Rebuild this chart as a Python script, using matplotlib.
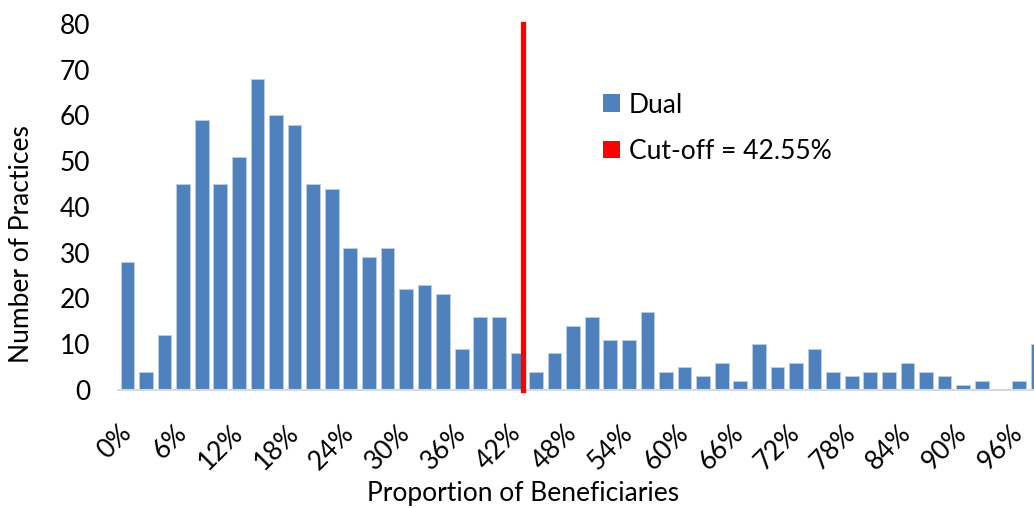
import matplotlib
matplotlib.use("Agg")
import matplotlib.pyplot as plt
from matplotlib.patches import Patch
import numpy as np

# =====================
# Data
# =====================
bin_pct = list(range(0, 100, 2))  # bin start, percent
practices = [28, 4, 12, 45, 59, 45, 51, 68, 60, 58,
             45, 44, 31, 29, 31, 22, 23, 21, 9, 16,
             16, 8, 4, 8, 14, 16, 11, 11, 17, 4,
             5, 3, 6, 2, 10, 5, 6, 9, 4, 3,
             4, 4, 6, 4, 3, 1, 2, 0, 2, 10]
tick_pct = list(range(0, 100, 6))
cutoff = 42.55

BLUE = "#4F81BD"
RED = "#FF0000"
FS = 19

plt.rcParams["font.family"] = ["Lato", "DejaVu Sans"]

W, H = 1034, 508
fig = plt.figure(figsize=(W / 100, H / 100), dpi=100)
ax = fig.add_axes([118 / W, (H - 390) / H, (W - 118) / W, 366 / H])

ax.bar(bin_pct, practices, width=1.47, color=BLUE, edgecolor="#B9CDE5",
       linewidth=0.7, zorder=2)
ax.axvline(cutoff, color=RED, linewidth=3.8, clip_on=False, zorder=3)

ax.set_xlim(-1.02, 97.63)
ax.set_ylim(0, 80)
ax.set_yticks(range(0, 81, 10))
ax.set_xticks(tick_pct)
ax.set_xticklabels([f"{p}%" for p in tick_pct], rotation=45, ha="right",
                   va="center", rotation_mode="anchor")
ax.tick_params(axis="both", length=0, labelsize=FS)
ax.tick_params(axis="y", pad=20)
ax.tick_params(axis="x", pad=28)

for side in ["top", "right", "left"]:
    ax.spines[side].set_visible(False)
ax.spines["bottom"].set_color("#D9D9D9")
ax.spines["bottom"].set_linewidth(1.5)

fig.text(22 / W, 1 - 244 / H, "Number of Practices", rotation=90,
         ha="center", va="center", fontsize=FS)
fig.text(523 / W, 1 - 494 / H, "Proportion of Beneficiaries",
         ha="center", va="center", fontsize=FS)

handles = [Patch(facecolor=BLUE, edgecolor="none", label="Dual"),
           Patch(facecolor=RED, edgecolor="none", label="Cut-off = 42.55%")]
fig.legend(handles=handles, loc="upper left", bbox_to_anchor=(592 / W, 1 - 82 / H),
           frameon=False, fontsize=FS, handlelength=0.65, handleheight=0.65,
           handletextpad=0.35, labelspacing=0.8, borderaxespad=0)

fig.savefig("out.png", dpi=100)
